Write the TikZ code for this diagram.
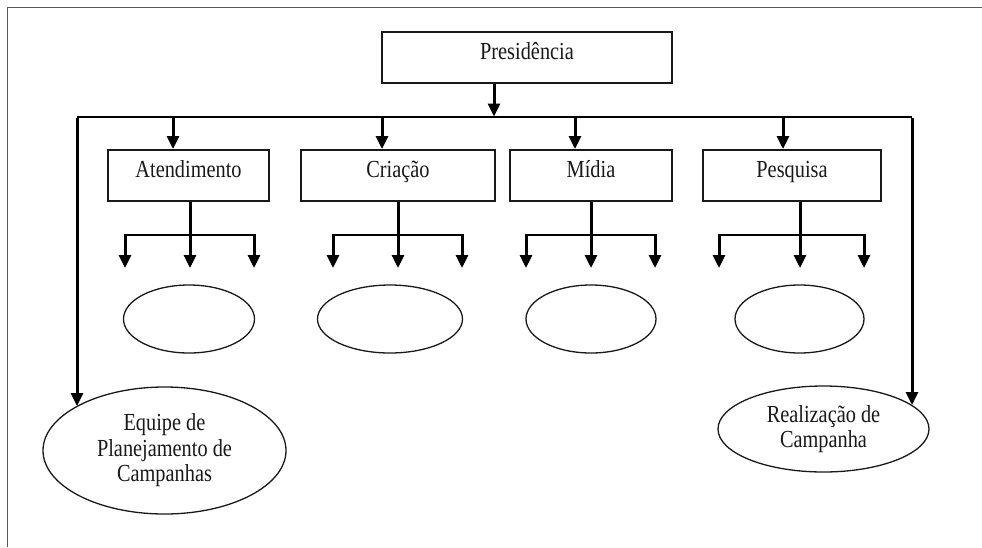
\documentclass[tikz,border=0pt]{standalone}
\usepackage{fontspec}
\setmainfont{Liberation Serif}[FakeStretch=0.83]
\usetikzlibrary{arrows.meta,shapes.geometric}
\begin{document}
\begin{tikzpicture}[x=1pt,y=-1pt,
  unit/.style={draw=black!90, line width=2pt, minimum height=51pt,
    inner sep=0pt, text height=16pt, text depth=12pt,
    font=\fontsize{24.5}{25}\selectfont, text=black!90},
  team/.style={ellipse, draw=black!90, line width=1.3pt, inner sep=0pt,
    align=center, font=\fontsize{24.5}{25.5}\selectfont, text=black!90},
  link/.style={line width=3pt, -{Triangle[length=13pt,width=12pt]}},
  rail/.style={line width=2.1pt},
  frame/.style={draw=black!65, line width=1.6pt}
]
\useasboundingbox (0,0) rectangle (982,547);
% page frame (top and left edges)
\draw[frame] (7.5,547) -- (7.5,7.5) -- (982,7.5);

% head unit
\node[unit, minimum width=290pt] (pres) at (527,57) {Presidência};

% departments
\node[unit, minimum width=161pt] (at) at (188.5,175.5) {Atendimento};
\node[unit, minimum width=194pt] (cr) at (398,175.5) {Criação};
\node[unit, minimum width=162pt] (mi) at (591,175.5) {Mídia};
\node[unit, minimum width=178pt] (pe) at (792,175.5) {Pesquisa};

% empty team ellipses under each department
\node[team, minimum width=131pt, minimum height=68pt] (atE) at (189,319) {};
\node[team, minimum width=145pt, minimum height=68pt] (crE) at (390,319) {};
\node[team, minimum width=130pt, minimum height=68pt] (miE) at (591,319) {};
\node[team, minimum width=129pt, minimum height=68pt] (peE) at (799.5,319) {};

% side teams
\node[team, minimum width=243pt, minimum height=127pt] (plan) at (164.5,450.5)
  {Equipe de\\Planejamento de\\Campanhas};
\node[team, minimum width=211pt, minimum height=86pt] (real) at (823.5,429)
  {Realização de\\Campanha};

% main distribution bar
\coordinate (barL) at (77,117);
\coordinate (barR) at (912,117);
\draw[rail] (barL) -- (barR);
\draw[link] (pres.south -| 494,0) -- (494,116.5);

% drops into the departments
\foreach \n/\x in {at/173, cr/382, mi/575, pe/783}
  \draw[link] (\x,116.5) -- (\n.north -| \x,0);

% side branches
\coordinate (planT) at (77,406);
\coordinate (realT) at (912,405);
\draw[link] ([yshift=-1pt]barL) -- (planT);
\draw[link] ([yshift=-1pt]barR) -- (realT);

% three-way forks under each department
\foreach \n/\s/\l/\r in {at/190/125/254, cr/398/333/462, mi/591/526/655, pe/800/719/864} {
  \draw[rail] (\l,235) -- (\r,235);
  \draw[link] (\n.south -| \s,0) -- (\s,268);
  \draw[link] (\l,234) -- (\l,268);
  \draw[link] (\r,234) -- (\r,268);
}
\end{tikzpicture}
\end{document}
